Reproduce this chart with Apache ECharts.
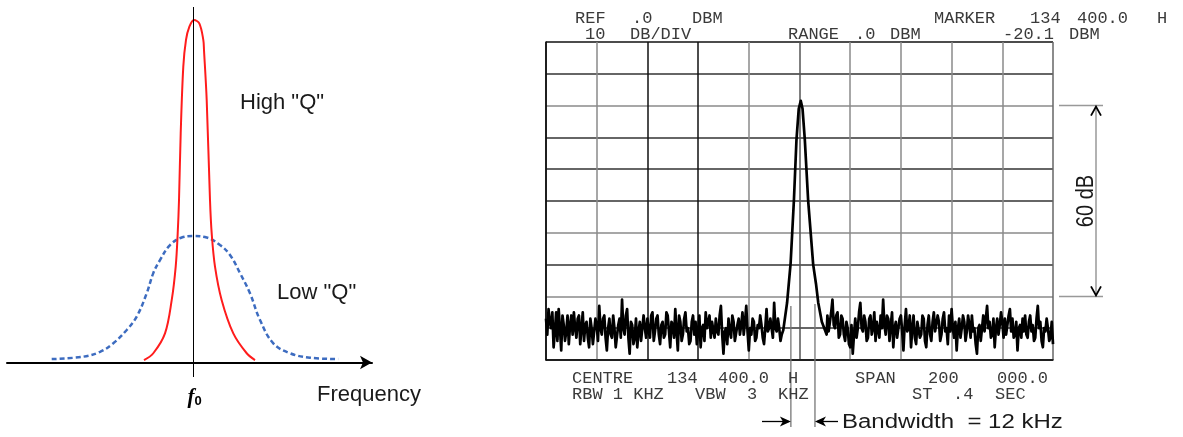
<!DOCTYPE html>
<html><head><meta charset="utf-8">
<script src="https://cdn.jsdelivr.net/npm/echarts@6/dist/echarts.min.js"></script>
<style>html,body{margin:0;padding:0;background:#fff}#c{width:1183px;height:437px}</style>
</head><body><div id="c"></div>
<script>
// ---- Left panel: resonance curves (offset from f0 in relative units, relative amplitude)
const highQFreq = [-0.495,-0.402,-0.285,-0.218,-0.178,-0.158,-0.145,-0.128,-0.102,-0.075,-0.042,0.005,0.058,0.098,0.105,0.132,0.165,0.182,0.215,0.282,0.398,0.532,0.615];
const highQAmp  = [0.007,0.027,0.085,0.182,0.280,0.377,0.474,0.669,0.864,0.942,0.980,1.000,0.990,0.942,0.912,0.766,0.474,0.377,0.280,0.182,0.085,0.027,0.007];
const lowQFreq  = [-1.418,-1.102,-0.935,-0.802,-0.668,-0.568,-0.468,-0.402,-0.335,-0.235,-0.118,-0.002,0.132,0.265,0.365,0.465,0.565,0.665,0.798,0.965,1.165,1.448];
const lowQAmp   = [0.010,0.017,0.031,0.056,0.095,0.134,0.202,0.261,0.299,0.343,0.365,0.369,0.365,0.343,0.314,0.261,0.202,0.124,0.056,0.027,0.014,0.010];
const leftLabels = ['High "Q"', 'Low "Q"', 'Frequency'];

// ---- Right panel: spectrum analyser trace (kHz offset from centre, dBm), noise read every 0.5 kHz
const noiseStepKhz = 0.5;
const noiseLeftStartKhz = -100;
const noiseLeftDbm = [
 -87,-92,-84,-88,-90,-85,-96,-91,-85,-94,-84,-90,-97,-86,-89,-94,-91,-86,-95,-89,
 -86,-92,-85,-90,-93,-87,-86,-95,-90,-85,-94,-89,-88,-93,-96,-87,-90,-95,-91,-87,
 -89,-94,-83,-90,-92,-87,-86,-93,-97,-90,-87,-92,-93,-86,-90,-96,-96,-89,-87,-93,
 -81,-90,-92,-86,-84,-93,-98,-88,-89,-95,-93,-87,-96,-91,-88,-94,-94,-86,-90,-93,
 -87,-91,-93,-86,-85,-94,-91,-87,-86,-92,-95,-89,-88,-93,-92,-85,-86,-91,-96,-88,
 -89,-93,-84,-91,-97,-86,-88,-94,-92,-87,-85,-91,-90,-95,-94,-88,-86,-92,-88,-95,
 -91,-86,-96,-90,-89,-94,-85,-90,-90,-86,-93,-88,-88,-93,-87,-91,-92,-86,-83,-92,
 -98,-91,-90,-95,-87,-91,-93,-86,-88,-94,-94,-89,-87,-92,-89,-85,-92,-88,-83,-91,
 -97,-90,-92,-87,-88,-94,-93,-89,-90,-86,-89,-93,-95,-90,-84,-91,-90,-87,-87,-93,
 -82,-90,-91,-87,-90,-94,-92];
const peakFreqKhz = [-6.4,-4.9,-3.5,-2.2,-1.2,-0.3,0.5,1.2,2.1,3.4,5.4,6.5,7.4,8.8,10.7];
const peakDbm     = [-90.6,-82,-69.5,-49.7,-30.8,-21,-18.5,-21,-30.8,-49.7,-70,-76,-82,-88,-92];
const noiseRightStartKhz = 11;
const noiseRightDbm = [
 -86,-91,-88,-85,-81,-89,-90,-86,-85,-93,-92,-86,-87,-92,-94,-88,-90,-95,-96,-89,
 -98,-92,-87,-93,-90,-85,-82,-90,-91,-86,-88,-94,-93,-87,-86,-92,-90,-85,-94,-88,
 -88,-93,-86,-90,-81,-89,-92,-86,-87,-94,-89,-85,-96,-90,-88,-93,-93,-87,-86,-91,
 -97,-89,-84,-91,-90,-86,-96,-90,-86,-93,-95,-88,-88,-93,-92,-86,-87,-94,-96,-89,
 -86,-92,-94,-88,-85,-91,-91,-86,-88,-94,-92,-87,-85,-91,-90,-95,-86,-91,-84,-90,
 -93,-88,-97,-90,-87,-93,-90,-86,-88,-94,-91,-86,-89,-93,-86,-91,-90,-95,-98,-90,
 -89,-94,-90,-86,-91,-87,-83,-90,-88,-93,-92,-87,-96,-90,-87,-92,-89,-85,-88,-93,
 -87,-92,-92,-86,-84,-91,-87,-93,-92,-88,-97,-90,-89,-93,-87,-91,-86,-92,-93,-88,
 -86,-91,-89,-94,-93,-87,-83,-90,-88,-94,-96,-90,-91,-87,-90,-94,-93,-88,-95];
const bandwidthEdgesKhz = [-3.4, 6.1];
const rangeMarkersDbm = [-20, -80];
const headerRow1 = ['REF','.0','DBM','MARKER','134','400.0','H'];
const headerRow2 = ['10','DB/DIV','RANGE','.0','DBM','-20.1','DBM'];
const footerRow1 = ['CENTRE','134','400.0','H','SPAN','200','000.0'];
const footerRow2 = ['RBW 1 KHZ','VBW','3','KHZ','ST','.4','SEC'];
const bandwidthLabel = 'Bandwidth  = 12 kHz';
const rangeLabel = '60 dB';

// ---- build series data
const highQ = highQFreq.map((f, i) => [f, highQAmp[i]]);
const lowQ = lowQFreq.map((f, i) => [f, lowQAmp[i]]);
const trace = [].concat(
  noiseLeftDbm.map((v, i) => [noiseLeftStartKhz + i * noiseStepKhz, v]),
  peakFreqKhz.map((f, i) => [f, peakDbm[i]]),
  noiseRightDbm.map((v, i) => [noiseRightStartKhz + i * noiseStepKhz, v])
);

const chart = echarts.init(document.getElementById('c'), null, {renderer: 'canvas'});
const G = '#8a8a8a', K = '#111';
chart.setOption({
  animation: false,
  backgroundColor: '#fff',
  grid: [
    {left: 7, top: 20, width: 365, height: 342.5},
    {left: 546, top: 42, width: 507, height: 318}
  ],
  xAxis: [
    {type: 'value', gridIndex: 0, min: -1.865, max: 1.785,
     axisLine: {show: true, onZero: false, symbol: ['none', 'arrow'], symbolSize: [10, 12],
                lineStyle: {color: '#000', width: 2}},
     axisTick: {show: false}, axisLabel: {show: false}, splitLine: {show: false}},
    {type: 'value', gridIndex: 1, min: -100, max: 100, interval: 20,
     axisLine: {show: true, onZero: false, lineStyle: {color: K, width: 1.5}},
     axisTick: {show: false}, axisLabel: {show: false},
     splitLine: {show: true, lineStyle: {width: 1.5, color: [K, G, K, K, G, '#555', G, G, G, G, '#666']}}}
  ],
  yAxis: [
    {type: 'value', gridIndex: 0, min: 0, max: 1, show: false},
    {type: 'value', gridIndex: 1, min: -100, max: 0, interval: 10,
     axisLine: {show: true, onZero: false, lineStyle: {color: K, width: 1.5}},
     axisTick: {show: false}, axisLabel: {show: false},
     splitLine: {show: true, lineStyle: {width: 1.5, color: [K, '#333', G, '#333', G, '#333', '#333', '#333', G, '#333', K]}}}
  ],
  series: [
    {type: 'line', xAxisIndex: 0, yAxisIndex: 0, data: lowQ, smooth: 0.4, symbol: 'none',
     lineStyle: {color: '#3d6cc0', width: 2.5, type: [5, 3]}, z: 3},
    {type: 'line', xAxisIndex: 0, yAxisIndex: 0, data: highQ, smooth: 0.35, symbol: 'none',
     lineStyle: {color: '#ff1c1c', width: 2}, z: 4},
    {type: 'line', xAxisIndex: 1, yAxisIndex: 1, data: trace, symbol: 'none',
     lineStyle: {color: '#000', width: 2.7, join: 'round'}, z: 5}
  ]
});

// ---- annotations
const mono = '17px "Liberation Mono", "DejaVu Sans Mono", monospace';
const sans = '"Liberation Sans", Arial, sans-serif';
const g = [];
function txt(x, y, s, font, fill, extra) {
  return Object.assign({type: 'text', x: x, y: y, silent: true, z: 20,
    style: {text: s, font: font, fill: fill || '#3a3a3a', align: 'left', verticalAlign: 'middle'}}, extra || {});
}
function line(x1, y1, x2, y2, color, w) {
  return {type: 'line', silent: true, z: 19, shape: {x1: x1, y1: y1, x2: x2, y2: y2}, style: {stroke: color, lineWidth: w}};
}
// left panel
const f0x = chart.convertToPixel({xAxisIndex: 0, yAxisIndex: 0}, [0, 0])[0];
g.push(line(f0x, 7, f0x, 377, '#000', 1));
g.push(txt(240, 103, leftLabels[0], '22px ' + sans, '#1a1a1a'));
g.push(txt(277, 293, leftLabels[1], '22px ' + sans, '#1a1a1a'));
g.push(txt(317, 395, leftLabels[2], '22px ' + sans, '#1a1a1a'));
g.push({type: 'text', x: f0x - 6, y: 398, silent: true, z: 20,
  style: {text: '{f|f}{s|0}', align: 'left', verticalAlign: 'middle',
    rich: {f: {font: 'italic bold 21px "Liberation Serif", serif', fill: '#000'},
           s: {font: 'bold 13px ' + sans, fill: '#000', padding: [7, 0, 0, 0]}}}});
// right panel header / footer
const h1x = [575, 632, 692, 934, 1030, 1077, 1157];
const h2x = [585, 630, 788, 855, 890, 1003, 1069];
const f1x = [572, 667, 718, 788, 855, 928, 997];
const f2x = [572, 695, 747, 778, 912, 953, 995];
headerRow1.forEach((s, i) => g.push(txt(h1x[i], 18, s, mono)));
headerRow2.forEach((s, i) => g.push(txt(h2x[i], 34, s, mono)));
footerRow1.forEach((s, i) => g.push(txt(f1x[i], 378, s, mono)));
footerRow2.forEach((s, i) => g.push(txt(f2x[i], 394, s, mono)));
// bandwidth markers
const bx = bandwidthEdgesKhz.map(k => chart.convertToPixel({xAxisIndex: 1, yAxisIndex: 1}, [k, -100])[0]);
g.push(line(bx[0], 306, bx[0], 427, '#777', 1.3));
g.push(line(bx[1], 304, bx[1], 427, '#777', 1.3));
const ay = 421.5;
g.push(line(762, ay, bx[0] - 2, ay, '#000', 1.3));
g.push({type: 'polygon', silent: true, z: 21, shape: {points: [[bx[0] - 11, ay - 5], [bx[0], ay], [bx[0] - 11, ay + 5], [bx[0] - 8, ay]]}, style: {fill: '#000'}});
g.push(line(bx[1] + 2, ay, 838, ay, '#000', 1.3));
g.push({type: 'polygon', silent: true, z: 21, shape: {points: [[bx[1] + 11, ay - 5], [bx[1], ay], [bx[1] + 11, ay + 5], [bx[1] + 8, ay]]}, style: {fill: '#000'}});
g.push(txt(842, 422, bandwidthLabel, '20px ' + sans, '#1a1a1a', {scaleX: 1.2}));
// 60 dB range arrow
const ry = rangeMarkersDbm.map(d => chart.convertToPixel({xAxisIndex: 1, yAxisIndex: 1}, [0, d])[1]);
g.push(line(1059, ry[0], 1103, ry[0], '#999', 1.5));
g.push(line(1059, ry[1], 1103, ry[1], '#999', 1.5));
g.push(line(1096, ry[0], 1096, ry[1], '#999', 1.5));
g.push({type: 'polyline', silent: true, z: 21, shape: {points: [[1091, ry[0] + 10], [1096, ry[0] + 1], [1101, ry[0] + 10]]}, style: {stroke: '#000', lineWidth: 1.8, fill: null}});
g.push({type: 'polyline', silent: true, z: 21, shape: {points: [[1091, ry[1] - 10], [1096, ry[1] - 1], [1101, ry[1] - 10]]}, style: {stroke: '#000', lineWidth: 1.8, fill: null}});
g.push({type: 'text', x: 1087, y: (ry[0] + ry[1]) / 2, rotation: Math.PI / 2, scaleY: 1.15, silent: true, z: 20,
  style: {text: rangeLabel, font: '20px ' + sans, fill: '#1a1a1a', align: 'center', verticalAlign: 'middle'}});
chart.setOption({graphic: g});
</script></body></html>
